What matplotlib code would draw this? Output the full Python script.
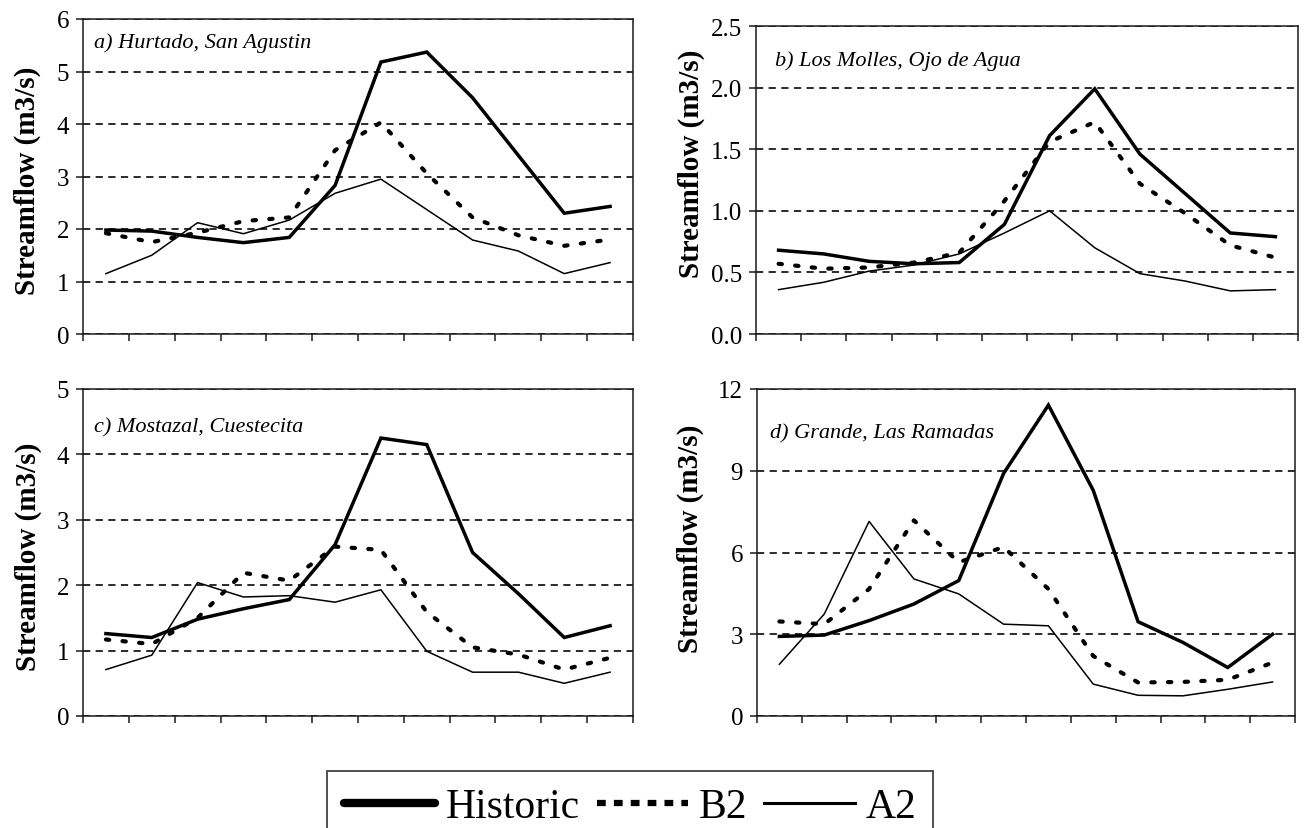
import numpy as np
import matplotlib
matplotlib.use("Agg")
import matplotlib.pyplot as plt
from matplotlib.lines import Line2D
from matplotlib.ticker import FormatStrFormatter, MultipleLocator

# Monthly mean streamflow (m3/s) for four basins: historic record and two climate scenarios
hurtado_historic = [1.98, 1.96, 1.84, 1.74, 1.84, 2.83, 5.18, 5.37, 4.50, 3.40, 2.30, 2.43]
hurtado_b2 = [1.92, 1.75, 1.93, 2.15, 2.22, 3.50, 4.03, 3.06, 2.22, 1.88, 1.68, 1.80]
hurtado_a2 = [1.15, 1.50, 2.12, 1.91, 2.17, 2.68, 2.95, 2.37, 1.79, 1.58, 1.15, 1.36]

molles_historic = [0.68, 0.65, 0.59, 0.57, 0.58, 0.89, 1.61, 1.99, 1.46, 1.14, 0.82, 0.79]
molles_b2 = [0.57, 0.53, 0.54, 0.58, 0.66, 1.08, 1.56, 1.72, 1.22, 0.98, 0.72, 0.62]
molles_a2 = [0.36, 0.42, 0.51, 0.56, 0.65, 0.82, 1.00, 0.70, 0.49, 0.43, 0.35, 0.36]

mostazal_historic = [1.26, 1.20, 1.48, 1.64, 1.78, 2.62, 4.25, 4.15, 2.50, 1.87, 1.20, 1.38]
mostazal_b2 = [1.17, 1.10, 1.50, 2.19, 2.07, 2.59, 2.54, 1.59, 1.05, 0.94, 0.71, 0.89]
mostazal_a2 = [0.71, 0.93, 2.04, 1.82, 1.84, 1.74, 1.93, 0.99, 0.67, 0.67, 0.50, 0.67]

grande_historic = [2.92, 2.97, 3.50, 4.11, 4.97, 8.90, 11.41, 8.28, 3.46, 2.70, 1.78, 3.00]
grande_b2 = [3.47, 3.37, 4.66, 7.18, 5.64, 6.20, 4.66, 2.20, 1.23, 1.25, 1.33, 1.96]
grande_a2 = [1.90, 3.74, 7.14, 5.03, 4.48, 3.37, 3.31, 1.17, 0.76, 0.74, 0.98, 1.25]

panel_titles = ["a) Hurtado, San Agustin", "b) Los Molles, Ojo de Agua",
                "c) Mostazal, Cuestecita", "d) Grande, Las Ramadas"]
y_label = "Streamflow (m3/s)"
legend_labels = ["Historic", "B2", "A2"]

SERIF = "Liberation Serif"
plt.rcParams["font.family"] = SERIF

W, H = 1308, 829
fig = plt.figure(figsize=(W / 100, H / 100), dpi=100, facecolor="white")


def px_axes(left, top, right, bottom):
    return fig.add_axes([left / W, 1 - bottom / H, (right - left) / W, (bottom - top) / H])


B2_STYLE = (0, (0.8, 3.2))
GRID_STYLE = (0, (4, 3))


def draw_panel(ax, historic, b2, a2, ymax, ystep, fmt, title, title_xy, label_xy):
    n = len(historic)
    x = np.arange(n) + 0.5
    ax.plot(x, historic, color="black", lw=2.5, solid_joinstyle="miter", zorder=4)
    ax.plot(x, b2, color="black", lw=3.0, linestyle=B2_STYLE,
            dash_capstyle="round", zorder=3)
    ax.plot(x, a2, color="black", lw=1.1, zorder=3)

    ax.set_xlim(0, n)
    ax.set_ylim(0, ymax)
    ax.set_xticks(np.arange(n + 1))
    ax.yaxis.set_major_locator(MultipleLocator(ystep))
    ax.yaxis.set_major_formatter(FormatStrFormatter(fmt))
    ax.yaxis.grid(True, color="#1a1a1a", lw=1.3, linestyle=GRID_STYLE, zorder=1)
    ax.set_axisbelow(True)

    for side in ("left", "right", "top", "bottom"):
        ax.spines[side].set_color("#1a1a1a")
        ax.spines[side].set_linewidth(1.1)
    ax.tick_params(axis="both", direction="out", length=5, width=1.1, color="#1a1a1a",
                   labelsize=18, pad=5)
    ax.tick_params(axis="x", labelbottom=False)

    ax.set_ylabel(y_label, fontsize=21, fontweight="bold", family=SERIF)
    ax.yaxis.set_label_coords(*label_xy)
    ax.text(title_xy[0], title_xy[1], title, transform=ax.transAxes, fontsize=16,
            style="italic", family=SERIF, ha="left", va="center")


ax_a = px_axes(83, 20, 633, 335)
ax_b = px_axes(756, 27, 1298, 335)
ax_c = px_axes(83, 390, 633, 717)
ax_d = px_axes(757, 390, 1295, 717)

draw_panel(ax_a, hurtado_historic, hurtado_b2, hurtado_a2, 6, 1, "%d",
           panel_titles[0], (0.02, 0.925), (-0.077, 0.49))
draw_panel(ax_b, molles_historic, molles_b2, molles_a2, 2.5, 0.5, "%.1f",
           panel_titles[1], (0.035, 0.89), (-0.095, 0.555))
draw_panel(ax_c, mostazal_historic, mostazal_b2, mostazal_a2, 5, 1, "%d",
           panel_titles[2], (0.02, 0.885), (-0.074, 0.49))
draw_panel(ax_d, grande_historic, grande_b2, grande_a2, 12, 3, "%d",
           panel_titles[3], (0.025, 0.865), (-0.098, 0.545))

# Shared legend below the panels, with heavier sample lines; its box runs off the bottom edge
handles = [
    Line2D([], [], color="black", lw=6, solid_capstyle="round"),
    Line2D([], [], color="black", lw=4.5, linestyle=(0, (1.4, 1.3)), dash_capstyle="butt"),
    Line2D([], [], color="black", lw=2.2),
]
leg = fig.legend(handles, legend_labels, loc="upper left",
                 bbox_to_anchor=(327 / W, 1 - 772 / H), bbox_transform=fig.transFigure,
                 ncol=3, fontsize=30, frameon=True, fancybox=False, shadow=False,
                 borderaxespad=0, borderpad=0.4, handlelength=2.2, handletextpad=0.25,
                 columnspacing=0.4)
leg.get_frame().set_edgecolor("#222222")
leg.get_frame().set_linewidth(1.4)

fig.savefig("out.png", dpi=100, facecolor="white")
